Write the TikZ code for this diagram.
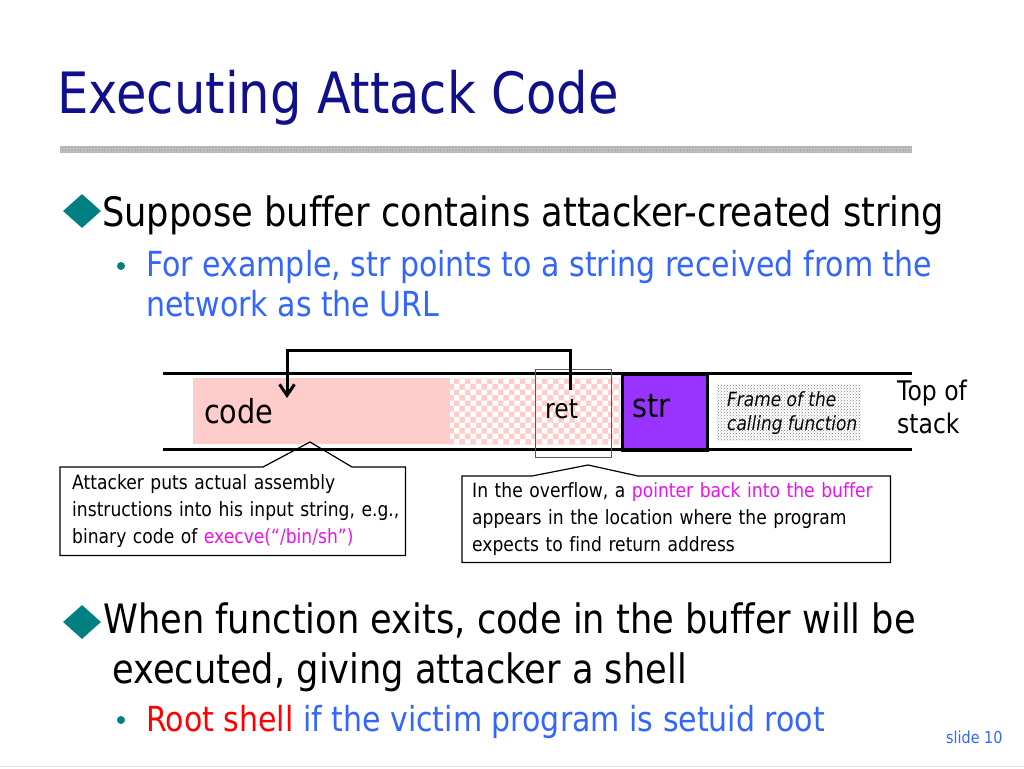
\documentclass[tikz,border=0pt]{standalone}
\usepackage{fontspec}
\setmainfont{DejaVu Sans}[FakeStretch=0.87, Ligatures=NoCommon]
\usetikzlibrary{positioning,patterns,arrows,arrows.meta,shapes.geometric}
\definecolor{titleblue}{RGB}{16,16,140}
\definecolor{bulletteal}{RGB}{0,128,128}
\definecolor{subblue}{RGB}{51,102,255}
\definecolor{bufpink}{RGB}{255,204,204}
\definecolor{strpurple}{RGB}{153,51,255}
\definecolor{hotpink}{RGB}{238,17,238}
\tikzset {
    style title/.style={
        text=titleblue,
        font=\fontsize{57}{68}\selectfont,
        anchor=base west,
        inner sep=0pt,
    },
    style main/.style={
        font=\fontsize{40.5}{48}\selectfont,
        anchor=base west,
        inner sep=0pt,
    },
    style sub/.style={
        text=subblue,
        font=\fontsize{34.5}{41}\selectfont,
        anchor=base west,
        inner sep=0pt,
    },
    style cell/.style={
        rectangle, % Set the shape as a rectangle
        anchor=north west,
        inner sep=0pt,
    },
    style label/.style={
        anchor=base west,
        inner sep=0pt,
    },
    style note/.style={
        rectangle, % Set the shape as a rectangle
        anchor=north west,
        align=left,
        font=\fontsize{19.7}{27}\selectfont,
        inner sep=0pt,
    },
    style outline/.style={
        draw=black,
        line width=1.2pt,
    },
}

\begin{document}
\begin{tikzpicture}
[x=1pt, y=-1pt,
stack line/.style={draw=black, line width=3pt},
bullet/.style={diamond, fill=bulletteal, minimum width=38, minimum height=34, inner sep=0pt},
dot/.style={circle, fill=bulletteal, minimum size=8, inner sep=0pt}]

\useasboundingbox (0,0) rectangle (1024,768);

% title and rule
\node [style title] (title) at (57,113) {Executing Attack Code};
\fill [gray!60] (60,146) rectangle (912,153);
\fill [pattern=crosshatch dots, pattern color=gray!25] (60,146) rectangle (912,153);

% first bullet
\node [bullet] (b1) at (82,211) {};
\node [style main] (l1) at (102,226) {Suppose buffer contains attacker-created string};
\node [dot] (d1) at (121,266) {};
\node [style sub] (s1) at (146,276) {For example, str points to a string received from the};
\node [style sub] (s2) at (146,316) {network as the URL};

% stack
\node [style cell, fill=bufpink, minimum width=257, minimum height=66] (buf) at (193,378) {};
\node [style cell, fill=white, minimum width=170, minimum height=66] (over) at (450,378) {};
\fill [pattern=checkerboard, pattern color=bufpink] (over.north west) rectangle (over.south east);
\node [style cell, fill=strpurple, draw=black, line width=3pt, minimum width=85, minimum height=76] (str) at (621,373) {};
\node [style cell, pattern=crosshatch dots, pattern color=gray, minimum width=145, minimum height=56] (frame) at (716,384) {};
\draw [stack line] (163,373) -- (912,373);
\draw [stack line] (163,449) -- (912,449);
\node [style cell, draw=gray!70!black, line width=0.8pt, minimum width=76, minimum height=88] (retbox) at (535,369) {};

\node [style label, font=\fontsize{33}{40}\selectfont] (code) at (204,423) {code};
\node [style label, font=\fontsize{27}{32}\selectfont] (ret) at (545,418) {ret};
\node [style label, font=\fontsize{33}{40}\selectfont] (strlab) at (632,417) {str};
\node [style label, font=\fontsize{19.5}{24}\selectfont\itshape, align=left, anchor=north west] (framelab) at (727,391) {Frame of the\\calling function};
\node [style label, font=\fontsize{27}{33}\selectfont, align=left, anchor=north west] (top) at (897,380) {Top of\\stack};

% return pointer
\coordinate (retptr) at (570,390);
\coordinate (codeptr) at (287,398);
\draw [-{Straight Barb[length=11pt,width=15pt]}, line width=3pt] (retptr) -- ++(0,-40) -| (codeptr);

% callouts
\node [style note, minimum width=345, minimum height=88, text width=335] (attk) at (60,467)
{\hspace*{7pt}Attacker puts actual assembly\\\hspace*{7pt}instructions into his input string, e.g.,\\\hspace*{7pt}binary code of \textcolor{hotpink}{execve(“/bin/sh”)}};
\draw [style outline] (attk.south west) -- (attk.north west) -- (263,467) -- (310,442) -- (352,467) -- (attk.north east) -- (attk.south east) -- cycle;

\node [style note, minimum width=428, minimum height=86, text width=424] (ovfl) at (462,476)
{\hspace*{8pt}In the overflow, a \textcolor{hotpink}{pointer back into the buffer}\\\hspace*{8pt}appears in the location where the program\\\hspace*{8pt}expects to find return address};
\draw [style outline] (ovfl.south west) -- (ovfl.north west) -- (532,476) -- (588,465) -- (638,476) -- (ovfl.north east) -- (ovfl.south east) -- cycle;

% second bullet
\node [bullet] (b2) at (82,622) {};
\node [style main] (l2) at (103,633) {When function exits, code in the buffer will be};
\node [style main] (l3) at (112,683) {executed, giving attacker a shell};
\node [dot] (d2) at (121,720) {};
\node [style sub] (s3) at (146,731) {\textcolor{red}{Root shell} if the victim program is setuid root};

\node [style label, text=subblue, font=\fontsize{16.5}{20}\selectfont] (slide) at (946,743) {slide 10};
\draw [gray!20] (0,766) -- (1024,766);

\end{tikzpicture}
\end{document}
